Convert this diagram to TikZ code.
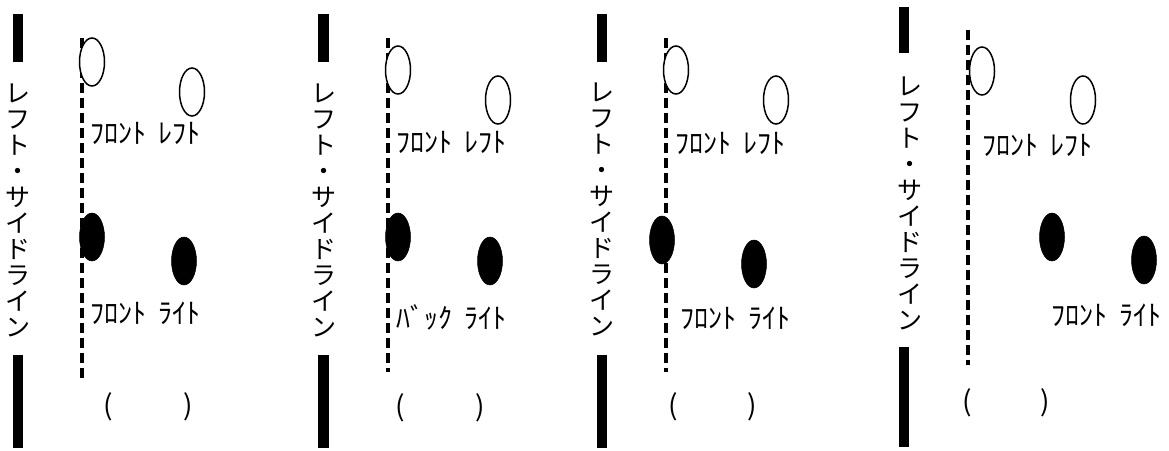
\documentclass[tikz,border=0pt]{standalone}
\usepackage{fontspec}
\newfontfamily\jp{Noto Sans CJK JP}
\usetikzlibrary{shapes.geometric}
\tikzset{
  bar/.style={fill=black, draw=none},
  vtext/.style={align=center, inner sep=0pt, font=\jp\fontsize{25}{26}\selectfont},
  openell/.style={ellipse, draw=black, fill=white, line width=1.5pt, minimum width=25pt, minimum height=48pt, inner sep=0pt},
  fillell/.style={ellipse, draw=black, fill=black, line width=0.5pt, minimum width=25pt, minimum height=48pt, inner sep=0pt},
  label/.style={anchor=west, inner sep=0pt, font=\jp\fontsize{28}{28}\selectfont},
  paren/.style={inner sep=0pt, font=\jp\fontsize{28}{30}\selectfont},
  dashline/.style={line width=3.2pt, dash pattern=on 10pt off 5pt}
}
\newcommand{\vlabel}{レ\\フ\\ト\\・\\サ\\イ\\ド\\ラ\\イ\\ン}
\newcommand{\gap}{\hspace{0.45em}}
\begin{document}
\begin{tikzpicture}[x=1pt,y=-1pt]
\useasboundingbox (0,0) rectangle (1169,450);
% ---------- Panel 1
\fill[bar] (13,14) rectangle (23,62);
\fill[bar] (13,355) rectangle (23,448);
\node[vtext] (v1) at (18,210) {\vlabel};
\coordinate (d1a) at (82,38); \coordinate (d1b) at (82,378);
\draw[dashline] (d1a) -- (d1b);
\node[openell] (o1a) at (92,62) {};
\node[openell] (o1b) at (192,92) {};
\node[label] (t1a) at (90,133) {ﾌﾛﾝﾄ\gap ﾚﾌﾄ};
\node[fillell] (f1a) at (92,237) {};
\node[fillell] (f1b) at (184,261) {};
\node[label] (t1b) at (90,313) {ﾌﾛﾝﾄ\gap ﾗｲﾄ};
\node[paren] (p1a) at (108,407) {(};
\node[paren] (p1b) at (188,407) {)};
% ---------- Panel 2
\fill[bar] (318,14) rectangle (329,62);
\fill[bar] (318,355) rectangle (329,448);
\node[vtext] (v2) at (324,210) {\vlabel};
\coordinate (d2a) at (388,38); \coordinate (d2b) at (388,372);
\draw[dashline] (d2a) -- (d2b);
\node[openell] (o2a) at (398,70) {};
\node[openell] (o2b) at (498,100) {};
\node[label] (t2a) at (396,142) {ﾌﾛﾝﾄ\gap ﾚﾌﾄ};
\node[fillell] (f2a) at (398,237) {};
\node[fillell] (f2b) at (490,261) {};
\node[label] (t2b) at (396,317) {ﾊﾞｯｸ\gap ﾗｲﾄ};
\node[paren] (p2a) at (400,408) {(};
\node[paren] (p2b) at (480,408) {)};
% ---------- Panel 3
\fill[bar] (597,14) rectangle (607,62);
\fill[bar] (597,355) rectangle (607,448);
\node[vtext] (v3) at (602,209) {\vlabel};
\coordinate (d3a) at (666,38); \coordinate (d3b) at (666,372);
\draw[dashline] (d3a) -- (d3b);
\node[openell] (o3a) at (676,70) {};
\node[openell] (o3b) at (776,100) {};
\node[label] (t3a) at (675,143) {ﾌﾛﾝﾄ\gap ﾚﾌﾄ};
\node[fillell] (f3a) at (662,240) {};
\node[fillell] (f3b) at (754,264) {};
\node[label] (t3b) at (680,318) {ﾌﾛﾝﾄ\gap ﾗｲﾄ};
\node[paren] (p3a) at (673,407) {(};
\node[paren] (p3b) at (752,407) {)};
% ---------- Panel 4
\fill[bar] (899,7) rectangle (909,53);
\fill[bar] (899,347) rectangle (909,447);
\node[vtext] (v4) at (910,203) {\vlabel};
\coordinate (d4a) at (968,30); \coordinate (d4b) at (968,365);
\draw[dashline] (d4a) -- (d4b);
\node[openell] (o4a) at (982,71) {};
\node[openell] (o4b) at (1083,100) {};
\node[label] (t4a) at (982,145) {ﾌﾛﾝﾄ\gap ﾚﾌﾄ};
\node[fillell] (f4a) at (1052,237) {};
\node[fillell] (f4b) at (1144,260) {};
\node[label] (t4b) at (1051,315) {ﾌﾛﾝﾄ\gap ﾗｲﾄ};
\node[paren] (p4a) at (967,403) {(};
\node[paren] (p4b) at (1045,403) {)};
\end{tikzpicture}
\end{document}
